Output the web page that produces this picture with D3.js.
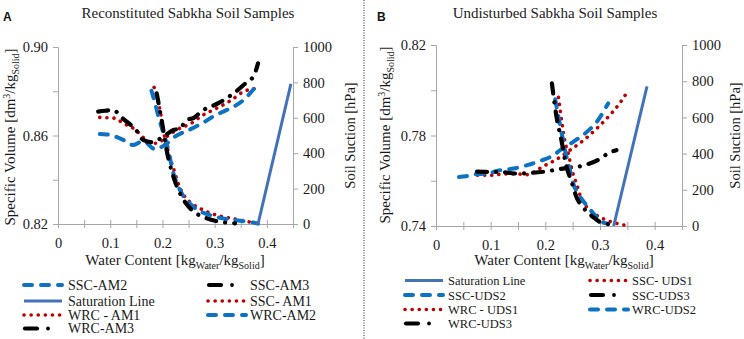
<!DOCTYPE html>
<html><head><meta charset="utf-8">
<script src="https://cdn.jsdelivr.net/npm/d3@7"></script>
<style>
body{margin:0;background:#fff}
svg{display:block}
</style>
</head><body>
<svg id="c" width="744" height="339"></svg>
<script>
// ---------- DATA ----------
const xTickValues = [0,0.05,0.1,0.15,0.2,0.25,0.3,0.35,0.4,0.45];
const xTickLabels = ["0","","0.1","","0.2","","0.3","","0.4",""];
const yTickValuesA = [0.82,0.84,0.86,0.88,0.90];
const yTickLabelsA = ["0.82","","0.86","","0.90"];
const yTickValuesB = [0.74,0.76,0.78,0.80,0.82];
const yTickLabelsB = ["0.74","","0.78","","0.82"];
const suctionTicks = [0,200,400,600,800,1000];
const suctionLabels = ["0","200","400","600","800","1000"];

// Panel A – Reconstituted (SSC: [water content, specific volume]; WRC: [water content, suction hPa])
const sscAM1 = [[0.080,0.8682],[0.095,0.8680],[0.109,0.8678],[0.125,0.8655],[0.144,0.8633],[0.157,0.8607],[0.173,0.8570],[0.189,0.8565],[0.208,0.8595],[0.227,0.8625],[0.255,0.8655],[0.278,0.8693],[0.297,0.8715],[0.332,0.8760],[0.355,0.8798],[0.380,0.8813]];
const sscAM2 = [[0.080,0.8607],[0.093,0.8605],[0.106,0.8598],[0.125,0.8580],[0.144,0.8557],[0.163,0.8575],[0.186,0.8538],[0.205,0.8558],[0.224,0.8595],[0.255,0.8630],[0.281,0.8662],[0.300,0.8690],[0.323,0.8715],[0.355,0.8760],[0.380,0.8825]];
const sscAM3 = [[0.077,0.8708],[0.090,0.8712],[0.105,0.8715],[0.125,0.8675],[0.151,0.8620],[0.163,0.8580],[0.179,0.8570],[0.205,0.8600],[0.221,0.8625],[0.233,0.8630],[0.246,0.8670],[0.260,0.8680],[0.275,0.8710],[0.307,0.8746],[0.332,0.8783],[0.361,0.8840],[0.375,0.8870],[0.383,0.8926]];
const wrcAM1 = [[0.184,772],[0.192,691],[0.197,616],[0.202,531],[0.205,475],[0.209,433],[0.214,376],[0.221,315],[0.230,230],[0.243,154],[0.256,117],[0.278,79],[0.307,47],[0.332,32],[0.364,13],[0.380,4]];
const wrcAM2 = [[0.179,753],[0.186,680],[0.193,600],[0.202,512],[0.208,456],[0.221,286],[0.237,173],[0.259,98],[0.297,45],[0.336,23],[0.374,8],[0.383,2]];
const wrcAM3 = [[0.189,738],[0.195,644],[0.200,560],[0.208,418],[0.221,267],[0.237,154],[0.253,89],[0.285,32],[0.310,13],[0.339,4]];
const satA = [[0.383,0.82],[0.446,0.8833]];

// Panel B – Undisturbed
const sscUDS1 = [[0.076,0.7624],[0.100,0.7624],[0.124,0.7630],[0.149,0.7630],[0.167,0.7627],[0.180,0.7640],[0.194,0.7661],[0.218,0.7691],[0.245,0.7735],[0.270,0.7779],[0.294,0.7831],[0.318,0.7890],[0.336,0.7942],[0.350,0.7993]];
const sscUDS2 = [[0.042,0.7617],[0.055,0.7620],[0.070,0.7628],[0.094,0.7632],[0.118,0.7647],[0.142,0.7654],[0.167,0.7669],[0.191,0.7688],[0.215,0.7713],[0.227,0.7735],[0.251,0.7772],[0.276,0.7816],[0.294,0.7860],[0.315,0.7942]];
const sscUDS3 = [[0.075,0.7640],[0.097,0.7639],[0.118,0.7639],[0.145,0.7632],[0.175,0.7635],[0.206,0.7643],[0.235,0.7655],[0.264,0.7664],[0.293,0.7688],[0.321,0.7728],[0.330,0.7735]];
const wrcUDS1 = [[0.224,711],[0.226,668],[0.228,622],[0.232,539],[0.236,465],[0.242,401],[0.248,318],[0.258,225],[0.267,142],[0.279,96],[0.294,59],[0.312,32],[0.333,13],[0.350,2]];
const wrcUDS2 = [[0.218,700],[0.224,603],[0.230,511],[0.236,419],[0.245,308],[0.251,235],[0.260,179],[0.273,124],[0.288,69],[0.303,22],[0.315,13]];
const wrcUDS3 = [[0.212,788],[0.216,696],[0.221,594],[0.224,548],[0.230,465],[0.236,364],[0.239,326],[0.248,244],[0.258,152],[0.266,115],[0.287,50],[0.308,13],[0.330,8]];
const satB = [[0.325,0.74],[0.386,0.8017]];

const legendLabelsA = ["SSC-AM2","SSC-AM3","Saturation Line","SSC- AM1","WRC - AM1","WRC-AM2","WRC-AM3"];
const legendLabelsB = ["Saturation Line","SSC- UDS1","SSC-UDS2","SSC-UDS3","WRC - UDS1","WRC-UDS2","WRC-UDS3"];

// ---------- STYLES ----------
const SERIF = "'Liberation Serif', 'Times New Roman', Times, serif";
const SANS = "'Liberation Sans', Arial, sans-serif";
const styles = {
  blue:  {stroke:"#0b72c4", width:4,   dash:"8 9"},
  red:   {stroke:"#c00000", width:3.6, dash:"0.1 7"},
  black: {stroke:"#000000", width:4.2, dash:"10 9 0.1 9"},
  sat:   {stroke:"#4472b8", width:3,   dash:null}
};
const axisColor = "#a6a6a6";
const textColor = "#1a1a1a";
const svg = d3.select("#c").attr("font-family",SERIF);

function drawPanel(cfg){
  const g = svg.append("g");
  const x = d3.scaleLinear().domain([0,0.45]).range([cfg.left,cfg.right]);
  const yL = d3.scaleLinear().domain(cfg.yDom).range([cfg.bottom,cfg.top]);
  const yR = d3.scaleLinear().domain([0,1000]).range([cfg.bottom,cfg.top]);

  function styleAxis(a){
    a.attr("font-family",SERIF).attr("font-size",14.5);
    a.select(".domain").attr("stroke",axisColor);
    a.selectAll(".tick line").attr("stroke",axisColor);
    a.selectAll(".tick text").attr("fill",textColor);
  }
  const ax = g.append("g").attr("transform",`translate(0,${cfg.bottom})`)
    .call(d3.axisBottom(x).tickValues(xTickValues).tickFormat((d,i)=>xTickLabels[i]).tickSizeOuter(0).tickSize(4).tickPadding(10));
  ax.selectAll(".tick line").attr("y1",-4).attr("y2",4);
  styleAxis(ax);
  const al = g.append("g").attr("transform",`translate(${cfg.left},0)`)
    .call(d3.axisLeft(yL).tickValues(cfg.yTicks).tickFormat((d,i)=>cfg.yLabels[i]).tickSizeOuter(0).tickSize(5).tickPadding(5));
  styleAxis(al);
  const ar = g.append("g").attr("transform",`translate(${cfg.right},0)`)
    .call(d3.axisRight(yR).tickValues(suctionTicks).tickFormat((d,i)=>suctionLabels[i]).tickSizeOuter(0).tickSize(5).tickPadding(5));
  styleAxis(ar);

  const lineL = d3.line().x(d=>x(d[0])).y(d=>yL(d[1])).curve(d3.curveMonotoneX);
  const lineR = d3.line().x(d=>x(d[0])).y(d=>yR(d[1])).curve(d3.curveMonotoneX);
  const lineS = d3.line().x(d=>x(d[0])).y(d=>yL(d[1]));
  function path(data, gen, st){
    g.append("path").datum(data).attr("d",gen).attr("fill","none")
      .attr("stroke",st.stroke).attr("stroke-width",st.width)
      .attr("stroke-linecap",st.dash?"round":"butt")
      .attr("stroke-dasharray",st.dash);
  }
  cfg.ssc.forEach(s=>path(s.data,lineL,styles[s.style]));
  cfg.wrc.forEach(s=>path(s.data,lineR,styles[s.style]));
  path(cfg.sat,lineS,styles.sat);

  // titles
  g.append("text").attr("x",cfg.titleX).attr("y",18).attr("text-anchor","middle")
    .attr("font-size",15).attr("fill","#222").text(cfg.title);
  g.append("text").attr("x",cfg.letterX).attr("y",21).attr("font-family",SANS)
    .attr("font-weight","bold").attr("font-size",12).attr("fill","#111").text(cfg.letter);

  // left axis title
  const lt = g.append("text").attr("transform",`translate(${cfg.leftTitleX},${cfg.leftTitleY}) rotate(-90)`)
    .attr("text-anchor","middle").attr("font-size",15).attr("fill",textColor);
  lt.append("tspan").text("Specific Volume [dm");
  lt.append("tspan").attr("font-size",10).attr("dy",-5).text("3");
  lt.append("tspan").attr("dy",5).text("/kg");
  lt.append("tspan").attr("font-size",10).attr("dy",4).text("Solid");
  lt.append("tspan").attr("dy",-4).text("]");
  // right axis title
  g.append("text").attr("transform",`translate(${cfg.rightTitleX},${(cfg.top+cfg.bottom)/2}) rotate(-90)`)
    .attr("text-anchor","middle").attr("font-size",14.5).attr("fill",textColor).text("Soil Suction [hPa]");
  // x axis title
  const xt = g.append("text").attr("x",cfg.xTitleX).attr("y",265).attr("text-anchor","middle")
    .attr("font-size",15).attr("fill",textColor);
  xt.append("tspan").text("Water Content [kg");
  xt.append("tspan").attr("font-size",10).attr("dy",4).text("Water");
  xt.append("tspan").attr("dy",-4).text("/kg");
  xt.append("tspan").attr("font-size",10).attr("dy",4).text("Solid");
  xt.append("tspan").attr("dy",-4).text("]");

  // legend
  cfg.legend.forEach((item,i)=>{
    const col = i%2, row = Math.floor(i/2);
    const x0 = cfg.legCols[col], yy = cfg.legRows[row];
    const st = styles[item.style];
    if(item.style==="black"){
      g.append("line").attr("x1",x0+3).attr("x2",x0+15).attr("y1",yy).attr("y2",yy)
        .attr("stroke","#000").attr("stroke-width",4.2).attr("stroke-linecap","round");
      g.append("circle").attr("cx",x0+26).attr("cy",yy).attr("r",1.9).attr("fill","#000");
    } else {
      g.append("line").attr("x1",x0+2).attr("x2",x0+40).attr("y1",yy).attr("y2",yy)
        .attr("stroke",st.stroke).attr("stroke-width",st.width)
        .attr("stroke-linecap",st.dash?"round":"butt").attr("stroke-dasharray",st.dash);
    }
    g.append("text").attr("x",x0+cfg.legTextOff[col]).attr("y",yy+4.5).attr("font-size",cfg.legFont)
      .attr("fill",textColor).text(item.label);
  });
}

drawPanel({
  left:58, right:293, top:47, bottom:224, yDom:[0.82,0.90],
  yTicks:yTickValuesA, yLabels:yTickLabelsA,
  ssc:[{data:sscAM1,style:"red"},{data:sscAM2,style:"blue"},{data:sscAM3,style:"black"}],
  wrc:[{data:wrcAM1,style:"red"},{data:wrcAM2,style:"blue"},{data:wrcAM3,style:"black"}],
  sat:satA,
  title:"Reconstituted Sabkha Soil Samples", titleX:188, letter:"A", letterX:3,
  leftTitleX:15, leftTitleY:137, rightTitleX:355, xTitleX:175,
  legend:legendLabelsA.map((l,i)=>({label:l,style:["blue","black","sat","red","red","blue","black"][i]})),
  legCols:[22,206], legTextOff:[46,44], legRows:[285,301,315,328.5], legFont:14
});
drawPanel({
  left:436, right:682, top:45, bottom:226, yDom:[0.74,0.82],
  yTicks:yTickValuesB, yLabels:yTickLabelsB,
  ssc:[{data:sscUDS1,style:"red"},{data:sscUDS2,style:"blue"},{data:sscUDS3,style:"black"}],
  wrc:[{data:wrcUDS1,style:"red"},{data:wrcUDS2,style:"blue"},{data:wrcUDS3,style:"black"}],
  sat:satB,
  title:"Undisturbed Sabkha Soil Samples", titleX:555, letter:"B", letterX:377,
  leftTitleX:390, leftTitleY:135, rightTitleX:740, xTitleX:564,
  legend:legendLabelsB.map((l,i)=>({label:l,style:["sat","red","blue","black","red","blue","black"][i]})),
  legCols:[403,588], legTextOff:[45,44], legRows:[280.5,295,309.5,323.5], legFont:12.5
});

// dotted divider
svg.append("line").attr("x1",364).attr("x2",364).attr("y1",0).attr("y2",339)
  .attr("stroke","#222").attr("stroke-width",1).attr("stroke-dasharray","1 1.5");
</script>
</body></html>
